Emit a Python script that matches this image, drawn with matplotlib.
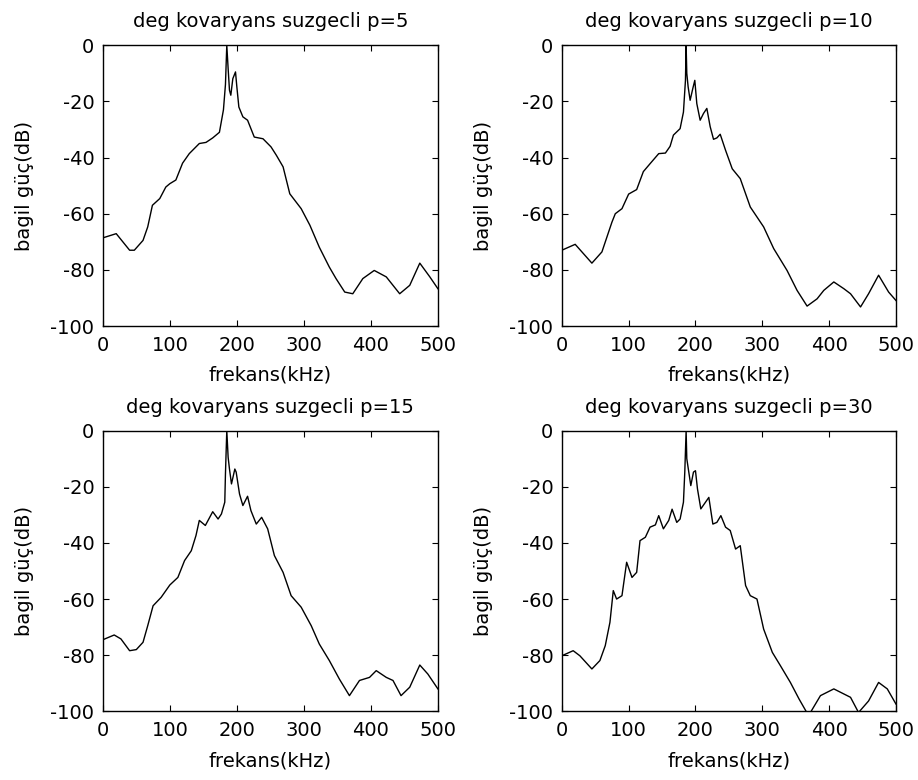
"""Covariance-method spectral estimates for several model orders."""

import matplotlib.pyplot as plt

orders = [5, 10, 15, 30]

freq_p5 = [0, 20, 40, 47, 60, 67, 74, 85, 94, 100, 109, 119, 129, 144, 154, 164, 174,
           180, 183, 185, 187, 189, 191, 194, 198, 200, 203, 209, 216, 226, 239, 251,
           259, 269, 279, 296, 309, 323, 338, 348, 361, 373, 388, 405, 423, 443, 458,
           473, 488, 500]
power_p5 = [-68.6, -67.1, -73, -73, -69.5, -64.7, -57, -54.6, -50.5, -49.3, -48, -42,
            -38.6, -35, -34.6, -33, -31, -23, -14, 0, -8.3, -16, -17.8, -11.9, -9.5,
            -14.8, -22, -25.5, -26.7, -32.7, -33.3, -36.2, -39.2, -43.3, -52.9, -58.2,
            -64.1, -71.9, -79, -83.1, -87.9, -88.5, -83.1, -80.2, -82.5, -88.5, -85.5,
            -77.6, -82.5, -86.7]

freq_p10 = [0, 20, 45, 60, 75, 80, 90, 100, 112, 122, 132, 145, 155, 162, 167, 177,
            182, 185, 186, 187, 189, 192, 196, 199, 202, 207, 212, 217, 222, 227, 232,
            237, 245, 255, 267, 282, 302, 317, 337, 352, 367, 382, 392, 407, 422, 432,
            447, 459, 474, 489, 500]
power_p10 = [-73, -70.9, -77.6, -73.6, -63, -60, -58.2, -53, -51.4, -45, -42.2, -38.6,
             -38.4, -36, -32, -29.7, -23.8, -12.5, 0, -10, -14.8, -19.6, -15.4, -12.5,
             -20.8, -26.7, -24.3, -22.5, -29, -33.5, -33, -31.7, -37.4, -44, -47.5,
             -57.6, -64.7, -72.4, -80.2, -87.3, -92.9, -90.3, -87.3, -84.3, -86.7,
             -88.5, -93.2, -88.5, -81.9, -87.9, -90.9]

freq_p15 = [0, 17, 27, 40, 50, 60, 67, 75, 87, 100, 112, 122, 132, 139, 144, 153, 164,
            172, 177, 182, 183, 185, 187, 189, 192, 197, 199, 204, 209, 216, 221, 229,
            237, 246, 256, 269, 281, 296, 311, 323, 338, 353, 368, 383, 398, 408, 423,
            433, 445, 458, 473, 485, 500]
power_p15 = [-74.5, -72.8, -74.2, -78.4, -78, -75.4, -69.5, -62.4, -59.4, -55, -52.3,
             -46.3, -42.8, -37.4, -32, -33.8, -28.9, -31.5, -29.7, -25.5, -15.4, 0,
             -9.5, -13.7, -19, -13.7, -14.8, -22.6, -26.7, -23.4, -28.5, -33.3, -30.9,
             -35, -44.5, -50.5, -58.8, -62.9, -69.5, -76, -81.9, -88.5, -94.4, -89,
             -87.9, -85.5, -87.9, -89, -94.4, -91.4, -83.5, -86.7, -92]

freq_p30 = [0, 17, 27, 45, 57, 65, 72, 77, 82, 90, 97, 105, 112, 117, 125, 132, 140,
            145, 152, 160, 165, 172, 177, 182, 184, 186, 187, 190, 193, 197, 200, 203,
            208, 220, 226, 232, 238, 245, 252, 260, 267, 275, 282, 292, 302, 315, 327,
            342, 355, 367, 372, 387, 407, 422, 432, 444, 459, 474, 487, 500]
power_p30 = [-80.2, -78.4, -80.2, -84.9, -81.9, -76.6, -68.3, -57, -60, -58.8, -46.9,
             -52.3, -50.5, -39.2, -38, -34.4, -33.6, -30.3, -35, -32, -28, -32.7,
             -31.5, -25.5, -14.8, 0, -10, -14.8, -19.6, -14.8, -14.3, -20.8, -27.9,
             -23.8, -33.3, -32.7, -30.3, -34.4, -35.6, -42.2, -41, -55.2, -58.8, -60,
             -70.7, -79, -83.7, -89.7, -95.6, -100.6, -100.4, -94.4, -92, -93.8, -95,
             -100.4, -96.3, -89.7, -92, -97.4]

series = [(freq_p5, power_p5), (freq_p10, power_p10),
          (freq_p15, power_p15), (freq_p30, power_p30)]

x_ticks = [0, 100, 200, 300, 400, 500]
y_ticks = [-100, -80, -60, -40, -20, 0]

plt.rcParams["font.family"] = ["DejaVu Sans"]
plt.rcParams["axes.unicode_minus"] = False

fig = plt.figure(figsize=(9.18, 7.8), dpi=100)
positions = [
    [0.112, 0.582, 0.365, 0.360],
    [0.612, 0.582, 0.364, 0.360],
    [0.112, 0.088, 0.365, 0.360],
    [0.612, 0.088, 0.364, 0.360],
]

for pos, order, (freq, power) in zip(positions, orders, series):
    ax = fig.add_axes(pos)
    ax.plot(freq, power, color="black", linewidth=1.0)
    ax.set_xlim(0, 500)
    ax.set_ylim(-100, 0)
    ax.set_xticks(x_ticks)
    ax.set_yticks(y_ticks)
    ax.tick_params(direction="in", top=True, right=True, length=4, labelsize=14)
    ax.tick_params(axis="x", pad=7)
    ax.tick_params(axis="y", pad=6)
    for spine in ax.spines.values():
        spine.set_linewidth(1.0)
    ax.set_title(f"deg kovaryans suzgecli p={order}", fontsize=14, pad=13)
    ax.set_xlabel("frekans(kHz)", fontsize=14, labelpad=8)
    ax.set_ylabel("bagil güç(dB)", fontsize=14, labelpad=12)

fig.savefig("out.png", dpi=100)
